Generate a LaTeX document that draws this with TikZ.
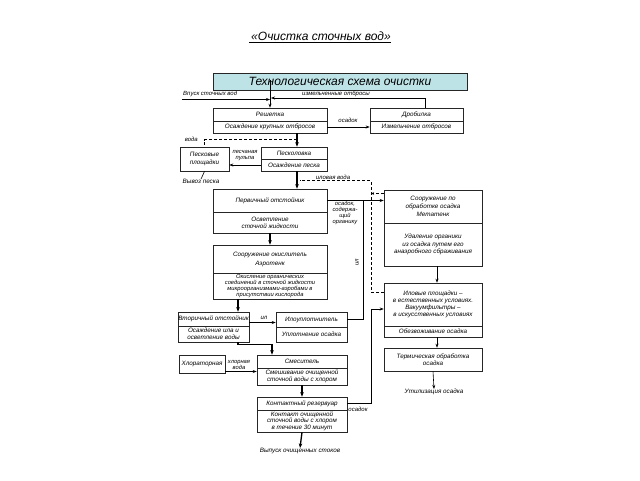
\documentclass[tikz,border=0pt]{standalone}
\usepackage{fontspec}
\setmainfont{Liberation Sans}
\usetikzlibrary{arrows.meta}
\definecolor{hdrfill}{RGB}{190,227,231}
\begin{document}
\begin{tikzpicture}[x=1pt,y=-1pt,
  every node/.style={font=\fontsize{6.3}{7.2}\selectfont\itshape, inner sep=0pt, align=center},
  bx/.style={draw=black!85, line width=0.6pt},
  lbl/.style={font=\fontsize{6}{6.3}\selectfont\itshape},
  conn/.style={line width=0.6pt, -{Stealth[length=4pt,width=3pt]}},
  line/.style={line width=0.6pt},
  main/.style={line width=1.3pt, -{Stealth[length=4.5pt,width=3.5pt]}},
  dsh/.style={line width=0.6pt, dash pattern=on 3pt off 2pt}]
\useasboundingbox (0,0) rectangle (640,480);
% title
\node[font=\fontsize{12}{14}\selectfont\itshape] (title) at (320,37) {\underline{\,«Очистка сточных вод»}};
\node[bx, fill=hdrfill, minimum width=254pt, minimum height=17pt, font=\fontsize{12}{14}\selectfont\itshape] (hdr) at (340,81.5) {Технологическая схема очистки};
% boxes
\node[bx, minimum width=114pt, minimum height=13pt] (reshA) at (270,114.5) {Решетка};
\node[bx, minimum width=114pt, minimum height=12pt] (reshB) at (270,127) {Осаждение крупных отбросов};
\node[bx, minimum width=93pt, minimum height=13pt] (drobA) at (416.5,114.5) {Дробилка};
\node[bx, minimum width=93pt, minimum height=12pt] (drobB) at (416.5,127) {Измельчение отбросов};
\node[bx, minimum width=66pt, minimum height=12pt] (peskA) at (294,153) {Песколовка};
\node[bx, minimum width=66pt, minimum height=12pt] (peskB) at (294,165) {Осаждение песка};
\node[bx, minimum width=49pt, minimum height=24pt] (pplosh) at (204.5,159) {Песковые\\площадки};
\node[bx, minimum width=114pt, minimum height=23pt] (pervA) at (270,200.5) {Первичный отстойник};
\node[bx, minimum width=114pt, minimum height=21pt] (pervB) at (270,222.5) {Осветление\\сточной жидкости};
\node[bx, minimum width=98pt, minimum height=33pt, font=\fontsize{6.3}{8}\selectfont\itshape] (metA) at (433,206.5) {Сооружение по\\обработке осадка\\Метатенк};
\node[bx, minimum width=98pt, minimum height=43pt, font=\fontsize{6.3}{7.5}\selectfont\itshape] (metB) at (433,244.5) {Удаление органики\\из осадка путем его\\анаэробного сбраживания};
\node[bx, minimum width=114pt, minimum height=28pt, font=\fontsize{6.3}{9}\selectfont\itshape] (aerA) at (270,259) {Сооружение окислитель\\Аэротенк};
\node[bx, minimum width=114pt, minimum height=26pt, font=\fontsize{5.8}{5.8}\selectfont\itshape] (aerB) at (270,286) {Окисление органических\\соединений в сточной жидкости\\микроорганизмами-аэробами в\\присутствии кислорода};
\node[bx, minimum width=98pt, minimum height=43pt] (ilplA) at (433,304.5) {Иловые площадки –\\в естественных условиях.\\Вакуумфильтры –\\в искусственных условиях};
\node[bx, minimum width=98pt, minimum height=11pt] (ilplB) at (433,331.5) {Обезвоживание осадка};
\node[bx, minimum width=98pt, minimum height=23pt] (term) at (433,359.5) {Термическая обработка\\осадка};
\node[bx, minimum width=71pt, minimum height=14pt] (vtorA) at (213.5,319) {Вторичный отстойник};
\node[bx, minimum width=71pt, minimum height=16pt, font=\fontsize{6.3}{6.8}\selectfont\itshape] (vtorB) at (213.5,334) {Осаждение ила и\\осветление воды};
\node[bx, minimum width=71pt, minimum height=15pt] (iluA) at (311.5,319.5) {Илоуплотнитель};
\node[bx, minimum width=71pt, minimum height=15pt] (iluB) at (311.5,334.5) {Уплотнение осадка};
\node[bx, minimum width=46pt, minimum height=18pt] (chlor) at (202,364) {Хлораторная};
\node[bx, minimum width=90pt, minimum height=13pt] (smesA) at (302,361.5) {Смеситель};
\node[bx, minimum width=90pt, minimum height=17pt, font=\fontsize{6.3}{6.8}\selectfont\itshape] (smesB) at (302,376.5) {Смешивание очищенной\\сточной воды с хлором};
\node[bx, minimum width=90pt, minimum height=13pt] (kontA) at (302,403.5) {Контактный резервуар};
\node[bx, minimum width=90pt, minimum height=22pt, font=\fontsize{6.3}{6.6}\selectfont\itshape] (kontB) at (302,421) {Контакт очищенной\\сточной воды с хлором\\в течение 30 минут};
% free-end labels
\node (vyvoz) at (201,181.5) {Вывоз песка};
\node (util) at (434,392) {Утилизация осадка};
\node (vypusk) at (300,451) {Выпуск очищенных стоков};
% coordinates
\coordinate (topv) at (270,80);
\coordinate (inS) at (182,99.5);
\coordinate (mj) at (271,98);
\coordinate (c297) at (297,0);
\coordinate (c238) at (238,0);
\coordinate (c437) at (437,0);
\coordinate (il1) at (363,0);
\coordinate (w1) at (297,139.5);
\coordinate (dv1) at (371,180.5);
\coordinate (dv2) at (371,292);
\coordinate (s2) at (371,0);
\coordinate (k1) at (272,344.5);
\coordinate (m1) at ([yshift=13pt]metA.west);
\coordinate (i1) at ([yshift=12.5pt]ilplA.west);
\coordinate (s1) at ([yshift=-4.5pt]ilplA.west);
\coordinate (h1) at ([yshift=-7.5pt]chlor.east);
\coordinate (v1) at ([yshift=-3.5pt]vtorA.east);
% connectors
\draw[line width=0.8pt, -{Stealth[length=4pt,width=3pt]}] (topv) -- (reshA.north);
\draw[conn] (inS) -- (inS -| reshA.north);
\node[lbl, anchor=south west] at (183,97) {Впуск сточных вод};
\draw[conn] ([xshift=9pt]drobA.north) |- (mj);
\node[lbl] at (336,94) {измельченные отбросы};
\draw[conn] (reshB.east) -- (reshB.east -| drobB.west);
\node[lbl] at (348,120) {осадок};
\draw[main] (reshB.south -| c297) -- (peskA.north -| c297);
\draw[dsh] (w1) -| (pplosh.north);
\node[lbl, anchor=east] at (198,139.5) {вода};
\draw[conn] (peskB.west) -- (peskB.west -| pplosh.east);
\node[lbl, font=\fontsize{5.8}{6}\selectfont\itshape] at (245,156) {песчаная\\пульпа};
\draw[line] (pplosh.south) -- (vyvoz.north);
\draw[main] (peskB.south -| c297) -- (pervA.north -| c297);
\draw[dsh] (i1) -- (dv2) -- (dv1) -- ([xshift=3pt]dv1 -| c297);
\draw[dsh, -{Stealth[length=3pt,width=2.5pt]}] (m1) -- (m1 -| dv1);
\node[lbl] at (333,177) {иловая вода};
\draw[conn] (pervA.east) -- (pervA.east -| metA.west);
\node[lbl, font=\fontsize{5.8}{5.8}\selectfont\itshape] at (345,213) {осадок,\\содержа-\\щий\\органику};
\draw[line] (iluA.east) -| (il1 |- pervA.east);
\node[lbl, rotate=90] at (357,262) {ил};
\draw[main] (pervB.south) -- (aerA.north);
\draw[conn] (metB.south -| c437) -- (ilplA.north -| c437);
\draw[conn] (ilplB.south -| c437) -- (term.north -| c437);
\draw[conn] (term.south) -- (util.north);
\draw[main] (aerB.south -| c238) -- (vtorA.north -| c238);
\draw[conn] (v1) -- (v1 -| iluA.west);
\node[lbl] at (264,318) {ил};
\draw[main] (vtorB.south -| c238) |- (k1) -- (k1 |- smesA.north);
\draw[conn] (h1) -- (h1 -| smesA.west);
\node[lbl, font=\fontsize{5.8}{6}\selectfont\itshape] at (239,365) {хлорная\\вода};
\draw[main] (smesB.south) -- (kontA.north);
\draw[main] (kontB.south) -- (vypusk.north);
\draw[conn] (kontA.east) -| (s2 |- s1) -- (s1);
\node[lbl] at (358,409) {осадок};
\end{tikzpicture}
\end{document}
